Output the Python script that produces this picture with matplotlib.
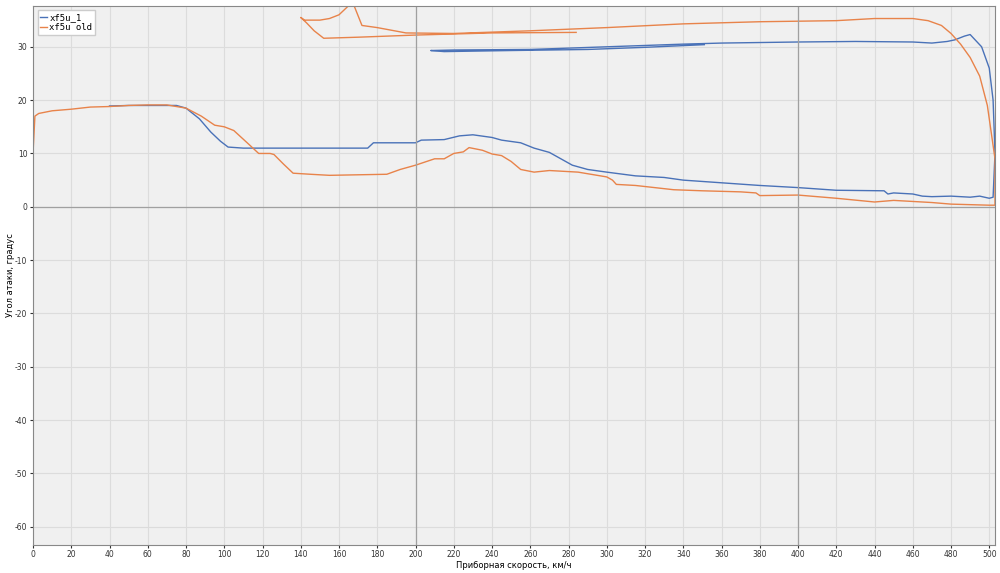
import matplotlib.pyplot as plt
from matplotlib.ticker import MultipleLocator

plt.rcParams['axes.unicode_minus'] = False

# xf5u_1
blue_x = [40, 50, 60, 75, 80, 87, 93, 98, 102, 110, 140, 165, 175, 178, 200, 203, 215, 223, 230,
          240, 245, 255, 262, 270, 282, 290, 300, 315, 330, 340, 360, 380, 400, 420, 445, 447,
          450, 460, 465, 470, 480, 490, 495, 500, 502, 503, 502, 500, 496, 490, 487, 482, 478,
          470, 460, 430, 400, 360, 340, 300, 260, 220, 208, 215, 250, 290, 320, 351]
blue_y = [18.9, 19.0, 19.0, 19.0, 18.5, 16.5, 14.0, 12.3, 11.2, 11.0, 11.0, 11.0, 11.0, 12.0, 12.0, 12.5, 12.6, 13.3, 13.5,
          13.0, 12.5, 12.0, 11.0, 10.2, 7.8, 7.0, 6.5, 5.8, 5.5, 5.0, 4.5, 4.0, 3.6, 3.1, 3.0, 2.4,
          2.6, 2.4, 2.0, 1.9, 2.0, 1.8, 2.0, 1.6, 1.8, 10.0, 20.0, 26.0, 30.0, 32.3, 32.0, 31.3, 31.0,
          30.7, 30.9, 31.0, 30.9, 30.7, 30.5, 30.0, 29.5, 29.4, 29.3, 29.1, 29.3, 29.5, 29.9, 30.4]

# xf5u old
orange_x = [284, 240, 200, 170, 152, 147, 143, 140, 142, 150, 155, 160, 165, 168, 172, 180, 195,
            220, 260, 300, 340, 380, 420, 440, 460, 468, 475, 480, 485, 490, 495, 499, 501, 503,
            503, 500, 490, 480, 470, 450, 440, 420, 400, 380, 378, 370, 350, 335, 315, 305, 303,
            300, 285, 270, 262, 255, 250, 245, 240, 235, 228, 225, 220, 215, 210, 200, 192, 185,
            170, 155, 145, 136, 131, 126, 124, 118, 112, 105, 100, 95, 88, 80, 70, 60, 50, 40,
            30, 20, 10, 3, 1, 0]
orange_y = [32.7, 32.6, 32.2, 31.8, 31.6, 33.0, 34.5, 35.5, 35.0, 35.0, 35.3, 36.0, 37.7, 37.6, 34.0, 33.6, 32.6,
            32.5, 33.0, 33.6, 34.3, 34.7, 34.9, 35.3, 35.3, 34.9, 34.0, 32.5, 30.5, 28.0, 24.5, 19.0, 14.0, 9.0,
            0.3, 0.3, 0.4, 0.5, 0.8, 1.2, 0.9, 1.6, 2.2, 2.1, 2.6, 2.8, 3.0, 3.2, 4.0, 4.2, 5.0,
            5.6, 6.5, 6.8, 6.5, 7.0, 8.5, 9.6, 9.9, 10.6, 11.1, 10.3, 10.0, 9.0, 9.0, 7.8, 7.0, 6.1,
            6.0, 5.9, 6.1, 6.3, 8.0, 9.8, 10.0, 10.0, 12.0, 14.3, 15.0, 15.3, 17.0, 18.5, 19.1, 19.1, 19.0, 18.8,
            18.7, 18.3, 18.0, 17.5, 17.0, 10.0]

fig = plt.figure(figsize=(10, 5.73), dpi=100)
ax = fig.add_axes([0.033, 0.049, 0.962, 0.941])
ax.set_facecolor('#f0f0f0')

ax.plot(blue_x, blue_y, color='#4a72b8', lw=1.0, label='xf5u_1')
ax.plot(orange_x, orange_y, color='#e8834a', lw=1.0, label='xf5u old')

ax.set_xlim(0, 503)
ax.set_ylim(-63.4, 37.7)
ax.xaxis.set_major_locator(MultipleLocator(20))
ax.yaxis.set_major_locator(MultipleLocator(10))
ax.grid(True, color='#dcdcdc', lw=0.8)
for v in [200, 400]:
    ax.axvline(v, color='#a0a0a0', lw=0.9)
ax.axhline(0, color='#a0a0a0', lw=0.9)
ax.tick_params(labelsize=5.5, length=2, pad=2, colors='#333333')
for s in ax.spines.values():
    s.set_color('#888888')

ax.set_xlabel('Приборная скорость, км/ч', fontsize=6, labelpad=1)
fig.text(0.011, 0.52, 'Угол атаки, градус', fontsize=6, rotation=90,
         ha='center', va='center')
ax.legend(loc='upper left', handlelength=0.7, handleheight=0.7,
          fancybox=False, framealpha=1, borderpad=0.3, labelspacing=0.1,
          handletextpad=0.3, prop={'family': 'DejaVu Sans Mono', 'size': 6.5})

fig.savefig('out.png', dpi=100)
